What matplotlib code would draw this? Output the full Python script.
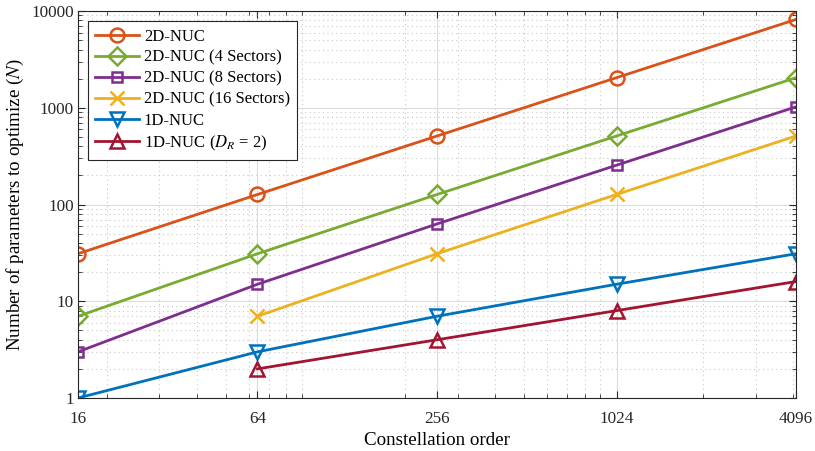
import matplotlib
matplotlib.use("Agg")
import matplotlib.pyplot as plt
from matplotlib.ticker import FixedLocator, FixedFormatter, LogLocator, NullFormatter

plt.rcParams['font.family'] = ['Liberation Serif', 'DejaVu Serif']
plt.rcParams['mathtext.fontset'] = 'stix'
plt.rcParams['font.size'] = 12.3

# constellation orders
m_all = [16, 64, 256, 1024, 4096]
m_hi = [64, 256, 1024, 4096]

# number of parameters per scheme
nuc2d = [31, 127, 511, 2047, 8191]
nuc2d_4s = [7, 31, 127, 511, 2047]
nuc2d_8s = [3, 15, 63, 255, 1023]
nuc2d_16s = [7, 31, 127, 511]
nuc1d = [1, 3, 7, 15, 31]
nuc1d_dr2 = [2, 4, 8, 16]

xticks = [16, 64, 256, 1024, 4096]
xticklabels = ["16", "64", "256", "1024", "4096"]

fig = plt.figure(figsize=(8.15, 4.51), dpi=100)
ax = fig.add_axes([0.0957, 0.1175, 0.881, 0.858])

mk = dict(lw=2, ms=10, mew=1.8, mfc='none')
ax.plot(m_all, nuc2d, color='#D95319', marker='o', label='2D-NUC', **mk)
ax.plot(m_all, nuc2d_4s, color='#77AC30', marker='D', label='2D-NUC (4 Sectors)', **dict(mk, ms=9))
ax.plot(m_all, nuc2d_8s, color='#7E2F8E', marker='s', label='2D-NUC (8 Sectors)', **dict(mk, ms=7.5))
ax.plot(m_hi, nuc2d_16s, color='#EDB120', marker='x', label='2D-NUC (16 Sectors)', **mk)
ax.plot(m_all, nuc1d, color='#0072BD', marker='v', label='1D-NUC', **mk)
ax.plot(m_hi, nuc1d_dr2, color='#A2142F', marker='^', label='1D-NUC ($D_R$ = 2)', **mk)

ax.set_xscale('log')
ax.set_yscale('log')
ax.set_xlim(16, 4096)
ax.set_ylim(1, 10000)

ax.xaxis.set_major_locator(FixedLocator(xticks))
ax.xaxis.set_major_formatter(FixedFormatter(xticklabels))
ax.xaxis.set_minor_locator(LogLocator(base=10, subs=range(2, 10)))
ax.xaxis.set_minor_formatter(NullFormatter())
ax.yaxis.set_major_locator(FixedLocator([1, 10, 100, 1000, 10000]))
ax.yaxis.set_major_formatter(FixedFormatter(["1", "10", "100", "1000", "10000"]))
ax.yaxis.set_minor_locator(LogLocator(base=10, subs=range(2, 10)))
ax.yaxis.set_minor_formatter(NullFormatter())

ax.tick_params(which='both', direction='in', top=True, right=True, colors='#262626')
ax.tick_params(which='major', length=5, pad=3)
ax.tick_params(axis='x', which='major', pad=9)
ax.tick_params(which='minor', length=3)
for s in ax.spines.values():
    s.set_color('#262626')
    s.set_linewidth(0.8)

ax.grid(True, which='major', color='#dcdcdc', lw=0.8)
ax.grid(True, which='minor', color='#c8c8c8', lw=0.8, ls=(0, (1, 3)))
ax.set_axisbelow(True)

ax.set_xlabel('Constellation order', fontsize=13.7, labelpad=4)
ax.set_ylabel('Number of parameters to optimize ($N$)', fontsize=13.7, labelpad=4)

leg = ax.legend(loc='upper left', fancybox=False, edgecolor='#262626', framealpha=1,
                fontsize=12, handlelength=2.6, handletextpad=0.3, borderaxespad=0.6,
                labelspacing=0.3, borderpad=0.45)
leg.get_frame().set_linewidth(0.8)

fig.savefig('out.png', dpi=100)
